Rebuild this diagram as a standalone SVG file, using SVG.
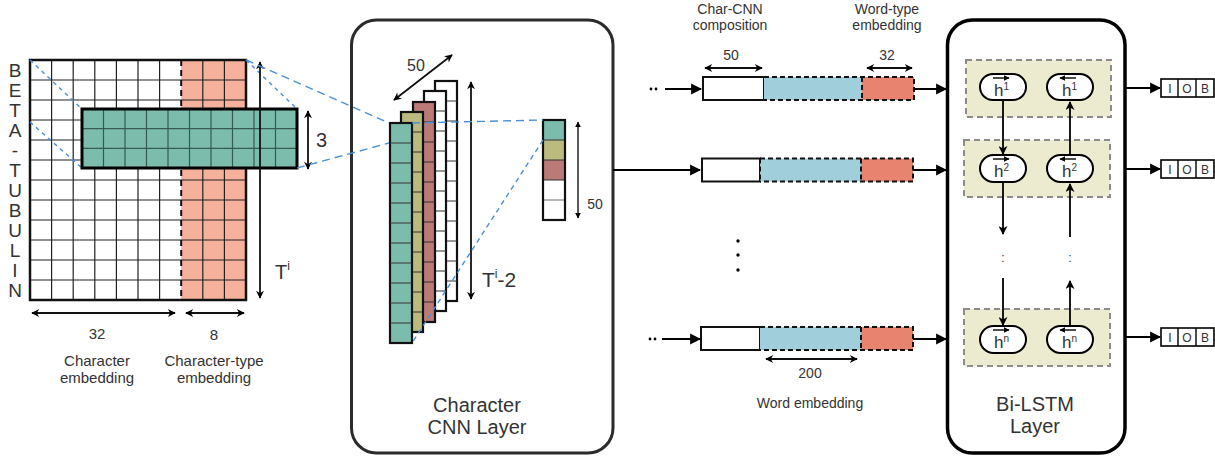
<svg xmlns="http://www.w3.org/2000/svg" width="1215" height="456" viewBox="0 0 1215 456">
<style>
text{font-family:"Liberation Sans",Arial,sans-serif;fill:#333}
.grid{stroke:#222;stroke-width:1.2;fill:none}
.outer{stroke:#111;stroke-width:2.5;fill:none}
.blue{stroke:#4a90d6;stroke-width:1.4;fill:none}
.dim{stroke:#111;stroke-width:1.8;fill:none;marker-start:url(#sm);marker-end:url(#sm)}
.main{stroke:#000;stroke-width:2;fill:none;marker-end:url(#big)}
.lstm{stroke:#000;stroke-width:1.8;fill:none;marker-end:url(#mid)}
.ov{stroke:#000;stroke-width:1.4;fill:none;marker-end:url(#tiny)}
.cell{stroke:#111;stroke-width:2.2}
.sep{stroke:#333;stroke-width:1.2}
.panel{fill:#ecebd0;stroke:#8c8c8c;stroke-width:2;stroke-dasharray:6 4}
.pill{fill:#fff;stroke:#000;stroke-width:2}
.seg{stroke:#111;stroke-width:2;stroke-dasharray:5 3}
</style>
<defs>
<marker id="sm" viewBox="0 0 10 10" refX="9" refY="5" markerWidth="9" markerHeight="8" markerUnits="userSpaceOnUse" orient="auto-start-reverse"><path d="M0,0 L10,5 L0,10 L3,5 z" fill="#000"/></marker>
<marker id="big" viewBox="0 0 10 10" refX="9" refY="5" markerWidth="11" markerHeight="13" markerUnits="userSpaceOnUse" orient="auto-start-reverse"><path d="M0,0 L10,5 L0,10 z" fill="#000"/></marker>
<marker id="mid" viewBox="0 0 10 10" refX="9" refY="5" markerWidth="9" markerHeight="9" markerUnits="userSpaceOnUse" orient="auto-start-reverse"><path d="M0,0 L10,5 L0,10 L3,5 z" fill="#000"/></marker>
<marker id="tiny" viewBox="0 0 10 10" refX="9" refY="5" markerWidth="6" markerHeight="6" markerUnits="userSpaceOnUse" orient="auto-start-reverse"><path d="M0,0 L10,5 L0,10 z" fill="#000"/></marker>
</defs>

<g id="char-matrix">
<rect x="30" y="60" width="152" height="240" fill="#fff"/>
<rect x="181.2" y="60" width="64.8" height="240" fill="#f6b19d"/>
<path class="grid" d="M51.6 60V300M73.2 60V300M94.8 60V300M116.4 60V300M138 60V300M159.6 60V300M202.8 60V300M224.4 60V300M30 80H246M30 100H246M30 120H246M30 140H246M30 160H246M30 180H246M30 200H246M30 220H246M30 240H246M30 260H246M30 280H246"/>
<path d="M181.2 60V300" stroke="#111" stroke-width="2" stroke-dasharray="6 4"/>
<rect class="outer" x="30" y="60" width="216" height="240"/>
<g font-size="19" text-anchor="middle">
<text x="15" y="77">B</text><text x="15" y="97">E</text><text x="15" y="117">T</text><text x="15" y="137">A</text><text x="15" y="157">-</text><text x="15" y="177">T</text><text x="15" y="197">U</text><text x="15" y="217">B</text><text x="15" y="237">U</text><text x="15" y="257">L</text><text x="15" y="277">I</text><text x="15" y="297">N</text>
</g>
<path class="blue" stroke-dasharray="4 4" d="M30 60L82 109M30 122L82 168M246 60L297 109"/>
<rect x="82" y="109" width="215" height="59" fill="#7cbcad"/>
<path stroke="#355a52" stroke-width="1.2" d="M103.5 109V168M125 109V168M146.5 109V168M168 109V168M189.5 109V168M211 109V168M232.5 109V168M254 109V168M275.5 109V168M82 128.7H297M82 148.3H297"/>
<rect x="82" y="109" width="215" height="59" fill="none" stroke="#000" stroke-width="3"/>
<path class="dim" d="M260 62V298"/>
<text x="275" y="279" font-size="20">T<tspan font-size="12" dy="-9">i</tspan></text>
<path class="dim" d="M308 111V169"/>
<text x="316" y="147" font-size="20">3</text>
<path class="dim" d="M32 313H175"/>
<path class="dim" d="M186 313H244"/>
<g font-size="15" text-anchor="middle">
<text x="97" y="339">32</text><text x="214" y="340">8</text>
<text x="97" y="366">Character</text><text x="97" y="383">embedding</text>
<text x="214" y="366">Character-type</text><text x="214" y="383">embedding</text>
</g>
</g>

<g id="cnn-layer">
<rect x="351.5" y="20" width="261.5" height="433" rx="25" fill="#fff" stroke="#2b2b2b" stroke-width="3"/>
<g>
<rect class="cell" x="435" y="81" width="22" height="220" fill="#fff"/>
<path class="sep" stroke="#888" d="M435 101H457M435 121H457M435 141H457M435 161H457M435 181H457M435 201H457M435 221H457M435 241H457M435 261H457M435 281H457"/>
<rect class="cell" x="424" y="91" width="22" height="220" fill="#fff"/>
<path class="sep" stroke="#888" d="M424 111H446M424 131H446M424 151H446M424 171H446M424 191H446M424 211H446M424 231H446M424 251H446M424 271H446M424 291H446"/>
<rect class="cell" x="413" y="102" width="22" height="220" fill="#b97a78"/>
<path class="sep" d="M413 122H435M413 142H435M413 162H435M413 182H435M413 202H435M413 222H435M413 242H435M413 262H435M413 282H435M413 302H435"/>
<rect class="cell" x="401" y="112" width="22" height="220" fill="#bbbb80"/>
<path class="sep" d="M401 132H423M401 152H423M401 172H423M401 192H423M401 212H423M401 232H423M401 252H423M401 272H423M401 292H423M401 312H423"/>
<rect class="cell" x="390" y="123" width="22" height="220" fill="#7cbcad"/>
<path class="sep" d="M390 143H412M390 163H412M390 183H412M390 203H412M390 223H412M390 243H412M390 263H412M390 283H412M390 303H412M390 323H412"/>
</g>
<path class="dim" d="M394 100L452 55"/>
<text x="416" y="71" font-size="16" text-anchor="middle">50</text>
<path class="dim" d="M471 82V299"/>
<text x="482" y="287" font-size="21">T<tspan font-size="12" dy="-9">i</tspan><tspan dy="9">-2</tspan></text>
<rect x="543" y="120" width="22" height="20" fill="#7cbcad"/>
<rect x="543" y="140" width="22" height="20" fill="#bbbb80"/>
<rect x="543" y="160" width="22" height="20" fill="#b97a78"/>
<rect x="543" y="180" width="22" height="40" fill="#fff"/>
<path class="sep" d="M543 140H565M543 160H565M543 180H565"/>
<path stroke="#888" stroke-width="1.2" d="M543 200H565"/>
<rect x="543" y="120" width="22" height="100" fill="none" stroke="#111" stroke-width="2.2"/>
<path d="M578 122V218" stroke="#000" stroke-width="1.3" marker-start="url(#tiny)" marker-end="url(#tiny)"/>
<text x="595" y="209" font-size="14" text-anchor="middle">50</text>
<text x="477" y="412" font-size="20" text-anchor="middle">Character</text>
<text x="477" y="434" font-size="20" text-anchor="middle">CNN Layer</text>
</g>

<g id="word-rows">
<g id="row1">
<rect x="703" y="77" width="61" height="23" fill="#fff" stroke="#111" stroke-width="2"/>
<rect x="764" y="77" width="98" height="23" fill="#a1cedb"/>
<rect x="862" y="77" width="52" height="23" fill="#e8836f"/>
<path class="seg" fill="none" d="M764 77H914V100H764"/>
<path class="seg" d="M862 77V100"/>
</g>
<g id="row2">
<rect x="702" y="158.5" width="58" height="23" fill="#fff" stroke="#111" stroke-width="2"/>
<rect x="760" y="158.5" width="101" height="23" fill="#a1cedb"/>
<rect x="861" y="158.5" width="52" height="23" fill="#e8836f"/>
<path class="seg" fill="none" d="M760 158.5H913V181.5H760"/>
<path class="seg" d="M861 158.5V181.5M760 158.5V181.5"/>
</g>
<g id="row3">
<rect x="701" y="327" width="59" height="23" fill="#fff" stroke="#111" stroke-width="2"/>
<rect x="760" y="327" width="101" height="23" fill="#a1cedb"/>
<rect x="861" y="327" width="52" height="23" fill="#e8836f"/>
<path class="seg" fill="none" d="M760 327H913V350H760"/>
<path class="seg" d="M861 327V350"/>
</g>
<circle cx="651" cy="89" r="1.4" fill="#000"/><circle cx="656" cy="89" r="1.4" fill="#000"/>
<circle cx="650" cy="339" r="1.4" fill="#000"/><circle cx="655" cy="339" r="1.4" fill="#000"/>
<circle cx="738" cy="241" r="1.7" fill="#000"/><circle cx="738" cy="255" r="1.7" fill="#000"/><circle cx="738" cy="270" r="1.7" fill="#000"/>
<g font-size="14" text-anchor="middle">
<text x="730" y="14">Char-CNN</text><text x="730" y="30">composition</text>
<text x="887" y="14">Word-type</text><text x="887" y="30">embedding</text>
<text x="731" y="60">50</text><text x="887" y="60">32</text>
<text x="810" y="378">200</text>
<text x="810" y="408">Word embedding</text>
</g>
<path class="dim" stroke-width="1.5" d="M705 68H762"/>
<path class="dim" stroke-width="1.5" d="M867 68H912"/>
<path class="dim" stroke-width="1.5" d="M766 359H857"/>
</g>

<g id="bilstm">
<rect x="947.5" y="20" width="177.5" height="433" rx="25" fill="none" stroke="#000" stroke-width="3.5"/>
<rect class="panel" x="966" y="60" width="145" height="57"/>
<rect class="panel" x="964" y="140" width="146" height="57"/>
<rect class="panel" x="964" y="309" width="146" height="57"/>
<text x="1003" y="262" font-size="12" text-anchor="middle">:</text>
<text x="1070" y="262" font-size="12" text-anchor="middle">:</text>
<text x="1035" y="411" font-size="20" text-anchor="middle">Bi-LSTM</text>
<text x="1035" y="433" font-size="20" text-anchor="middle">Layer</text>
</g>

<g id="connectors">
<path class="blue" stroke-dasharray="8 5" d="M246 60L389 123M297 168L389 143M412 123L543 120"/>
<path class="blue" stroke-dasharray="5 4" d="M543 140L412 343"/>
<path class="main" d="M665 89H701"/>
<path class="main" d="M613 170H700"/>
<path class="main" d="M662 339H700"/>
<path class="main" d="M914 89H946"/>
<path class="main" d="M913 170H946"/>
<path class="main" d="M913 339H946"/>
<path class="main" d="M1125 88H1160"/>
<path class="main" d="M1125 169H1160"/>
<path class="main" d="M1125 337H1160"/>
<path class="lstm" d="M1003 100V154"/>
<path class="lstm" d="M1003 183V234"/>
<path class="lstm" d="M1003 278V325"/>
<path class="lstm" d="M1070 155V102"/>
<path class="lstm" d="M1070 237V184"/>
<path class="lstm" d="M1070 326V281"/>
</g>

<g id="h1f"><rect class="pill" x="980" y="74" width="46" height="26" rx="13"/><text x="994" y="96" font-size="17">h<tspan font-size="10" dy="-6">1</tspan></text><path class="ov" d="M993 78H1009"/></g>
<g id="h1b"><rect class="pill" x="1047" y="74" width="46" height="26" rx="13"/><text x="1062" y="96" font-size="17">h<tspan font-size="10" dy="-6">1</tspan></text><path class="ov" d="M1076 78H1060"/></g>
<g id="h2f"><rect class="pill" x="980" y="155" width="46" height="27" rx="13.5"/><text x="994" y="177" font-size="17">h<tspan font-size="10" dy="-6">2</tspan></text><path class="ov" d="M993 159H1009"/></g>
<g id="h2b"><rect class="pill" x="1047" y="155" width="46" height="27" rx="13.5"/><text x="1062" y="177" font-size="17">h<tspan font-size="10" dy="-6">2</tspan></text><path class="ov" d="M1076 159H1060"/></g>
<g id="hnf"><rect class="pill" x="980" y="326" width="46" height="27" rx="13.5"/><text x="994" y="348" font-size="17">h<tspan font-size="10" dy="-6">n</tspan></text><path class="ov" d="M993 330H1009"/></g>
<g id="hnb"><rect class="pill" x="1047" y="326" width="46" height="27" rx="13.5"/><text x="1062" y="348" font-size="17">h<tspan font-size="10" dy="-6">n</tspan></text><path class="ov" d="M1076 330H1060"/></g>

<g id="iob1"><rect x="1161" y="79" width="53" height="18" fill="#fff" stroke="#000" stroke-width="1.6"/><path d="M1178 79V97M1196 79V97" stroke="#000" stroke-width="1.4"/><g font-size="12" text-anchor="middle"><text x="1170" y="93">I</text><text x="1187" y="93">O</text><text x="1205" y="93">B</text></g></g>
<g id="iob2"><rect x="1161" y="160" width="53" height="18" fill="#fff" stroke="#000" stroke-width="1.6"/><path d="M1178 160V178M1196 160V178" stroke="#000" stroke-width="1.4"/><g font-size="12" text-anchor="middle"><text x="1170" y="174">I</text><text x="1187" y="174">O</text><text x="1205" y="174">B</text></g></g>
<g id="iob3"><rect x="1161" y="328" width="53" height="18" fill="#fff" stroke="#000" stroke-width="1.6"/><path d="M1178 328V346M1196 328V346" stroke="#000" stroke-width="1.4"/><g font-size="12" text-anchor="middle"><text x="1170" y="342">I</text><text x="1187" y="342">O</text><text x="1205" y="342">B</text></g></g>
</svg>
